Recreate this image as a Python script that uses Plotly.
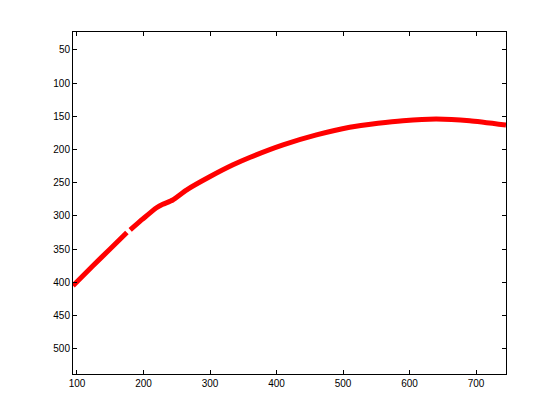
import plotly.graph_objects as go

x_vals = [94, 124, 149, 175, None, 180, 199, 219, 229, 244, 264.5, 299.5, 334.6,
          359.6, 409.8, 460, 510, 552.6, 590, 640, 690.5, 745]
y_vals = [405, 375, 350.5, 325, None, 321, 304.5, 288, 282.5, 276, 261, 241, 223,
          212, 193, 178, 166.4, 160.4, 156.5, 154, 156.5, 163]

x_ticks = [100, 200, 300, 400, 500, 600, 700]
y_ticks = [50, 100, 150, 200, 250, 300, 350, 400, 450, 500]

fig = go.Figure()
fig.add_trace(go.Scatter(x=x_vals, y=y_vals, mode="lines",
                         line=dict(color="#ff0000", width=5, shape="spline", smoothing=0.5),
                         connectgaps=False, showlegend=False))

axis_common = dict(showgrid=False, zeroline=False, showline=True, linecolor="black",
                   linewidth=1, mirror="ticks", ticks="inside", ticklen=4,
                   tickcolor="black", tickfont=dict(family="Liberation Sans, Arial", size=10, color="black"))

fig.update_xaxes(range=[94, 745], tickvals=x_ticks, **axis_common)
fig.update_yaxes(range=[538, 23], tickvals=y_ticks, **axis_common)

fig.update_layout(width=560, height=420, plot_bgcolor="white", paper_bgcolor="white",
                  margin=dict(l=65, r=62, t=24, b=54))

fig.write_html("out.html")
